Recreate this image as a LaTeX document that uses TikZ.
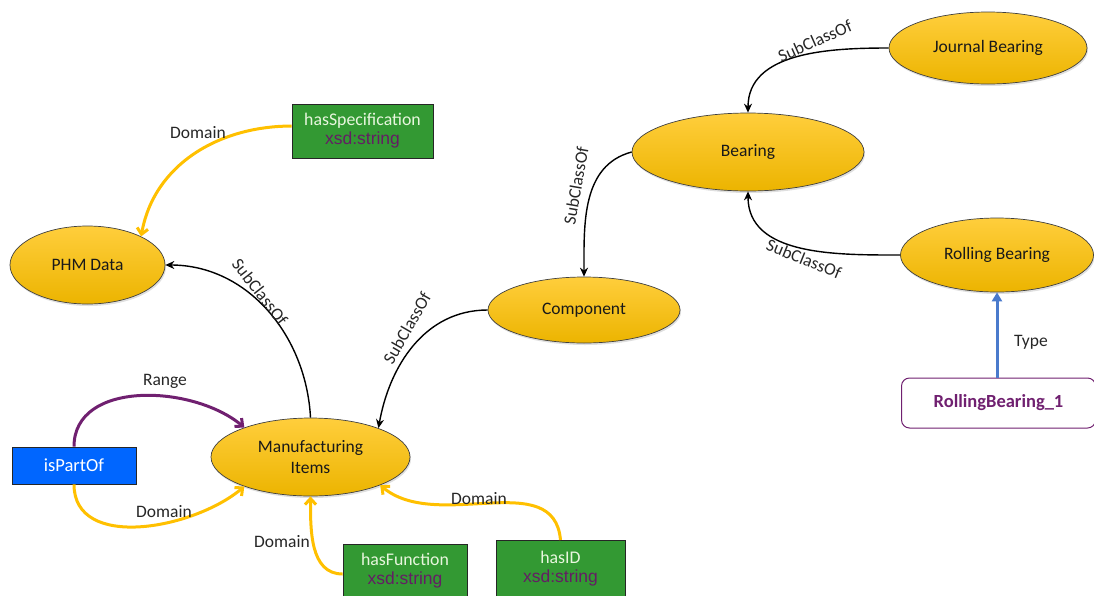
\documentclass[tikz,border=0pt]{standalone}
\usepackage{fontspec}
\setmainfont{Carlito}
\newfontfamily\xsdfont{Liberation Sans}
\usetikzlibrary{shapes.geometric,arrows.meta,shadows}

\definecolor{goldtop}{RGB}{255,206,60}
\definecolor{goldbot}{RGB}{236,180,0}
\definecolor{gold}{RGB}{255,192,0}
\definecolor{boxgreen}{RGB}{51,153,51}
\definecolor{boxtext}{RGB}{232,246,222}
\definecolor{xsdpurple}{RGB}{100,30,100}
\definecolor{rangepurple}{RGB}{112,32,112}
\definecolor{typeblue}{RGB}{74,122,204}
\definecolor{partblue}{RGB}{0,102,255}

\newcommand{\xsd}{{\xsdfont\fontsize{17.5}{19}\selectfont\color{xsdpurple}xsd:string}}

\tikzset{
  cls/.style={ellipse, draw=black!75, line width=0.7pt,
    top color=goldtop, bottom color=goldbot, inner sep=0pt,
    align=center, font=\fontsize{17.5}{21}\selectfont, text=black!90,
    drop shadow={shadow xshift=1pt, shadow yshift=-2pt, opacity=0.25}},
  dtype/.style={rectangle, draw=black!85, fill=boxgreen, line width=0.8pt,
    inner sep=0pt, align=center, font=\fontsize{17.8}{21}\selectfont},
  subarr/.style={draw=black, line width=1.4pt, -{Stealth[length=9pt,width=8pt]}},
  domarr/.style={draw=gold, line width=3pt, -{Straight Barb[length=6pt,width=11pt]}},
  rngarr/.style={draw=rangepurple, line width=3pt, -{Straight Barb[length=6pt,width=11pt]}},
  typarr/.style={draw=typeblue, line width=3pt, -{Triangle[length=9pt,width=10pt]}},
  lbl/.style={font=\fontsize{17.5}{20}\selectfont, text=black!85, inner sep=0pt}
}

\begin{document}
\begin{tikzpicture}[x=1pt,y=1pt]
\useasboundingbox (0,0) rectangle (1094,-595);

% classes
\node[cls, minimum width=155pt, minimum height=78pt] (phm)  at (87.5,-265) {PHM Data};
\node[cls, minimum width=199pt, minimum height=78pt] (mi)   at (310.5,-457) {Manufacturing\\Items};
\node[cls, minimum width=192pt, minimum height=66pt] (comp) at (584,-310) {Component};
\node[cls, minimum width=232pt, minimum height=78pt] (bear) at (748,-152) {Bearing};
\node[cls, minimum width=198pt, minimum height=72pt] (jb)   at (988,-48) {Journal Bearing};
\node[cls, minimum width=193pt, minimum height=74pt] (rb)   at (997,-255) {Rolling Bearing};

% datatype properties
\node[dtype, minimum width=141pt, minimum height=54pt] (spec) at (362.5,-131)
  {\color{boxtext}hasSpecification\\[-2pt]\xsd};
\node[dtype, minimum width=124pt, minimum height=53pt, anchor=north] (func) at (405,-544)
  {\color{boxtext}hasFunction\\[-2pt]\xsd};
\node[dtype, minimum width=129pt, minimum height=56pt, anchor=north] (hid) at (560.5,-540)
  {\color{boxtext}hasID\\[-2pt]\xsd};

% object property
\node[rectangle, draw=black!85, fill=partblue, line width=0.8pt, text=white,
  font=\fontsize{18.5}{21}\selectfont, minimum width=124pt, minimum height=37pt] (part) at (74,-465.5) {isPartOf};

% individual
\node[rectangle, rounded corners=8pt, draw=rangepurple, line width=1pt, fill=white,
  text=rangepurple, font=\fontsize{18.5}{21}\selectfont\bfseries,
  minimum width=194pt, minimum height=50pt, anchor=west] (rb1) at (901,-403) {RollingBearing\_1};

% subclass hierarchy
\draw[subarr] (jb.west) to[out=180,in=90] (bear.north);
\draw[subarr] (rb.west) to[out=180,in=-90] (bear.south);
\draw[subarr] (bear.west) to[out=195,in=90] (comp.north);
\draw[subarr] (comp.west) to[out=180,in=80] (mi.23);
\draw[subarr] (mi.north) to[out=93,in=0] (phm.east);

\node[lbl, rotate=24]  (l1) at (815,-41)  {SubClassOf};
\node[lbl, rotate=-22] (l2) at (804,-259) {SubClassOf};
\node[lbl, rotate=80]  (l3) at (576,-186) {SubClassOf};
\node[lbl, rotate=60]  (l4) at (407,-328) {SubClassOf};
\node[lbl, rotate=-52] (l5) at (260,-292) {SubClassOf};

% type
\draw[typarr] (rb1.north -| rb.south) -- (rb.south);
\node[lbl] (l6) at (1031,-342) {Type};

% domains and range
\draw[domarr] (spec.176) to[out=180,in=80] (phm.28);
\node[lbl] (l7) at (198,-133) {Domain};

\draw[rngarr] (part.north) to[out=90,in=140] (mi.156);
\node[lbl] (l8) at (165,-381) {Range};

\draw[domarr] (part.south) to[out=-90,in=-140] (mi.204);
\node[lbl] (l9) at (164,-512) {Domain};

\draw[domarr] (func.west |- 0,-574) to[out=180,in=-90] (mi.south);
\node[lbl] (l10) at (282,-542) {Domain};

\draw[domarr] (hid.north) to[out=95,in=-40] (mi.-22);
\node[lbl] (l11) at (479,-499) {Domain};
\end{tikzpicture}
\end{document}
